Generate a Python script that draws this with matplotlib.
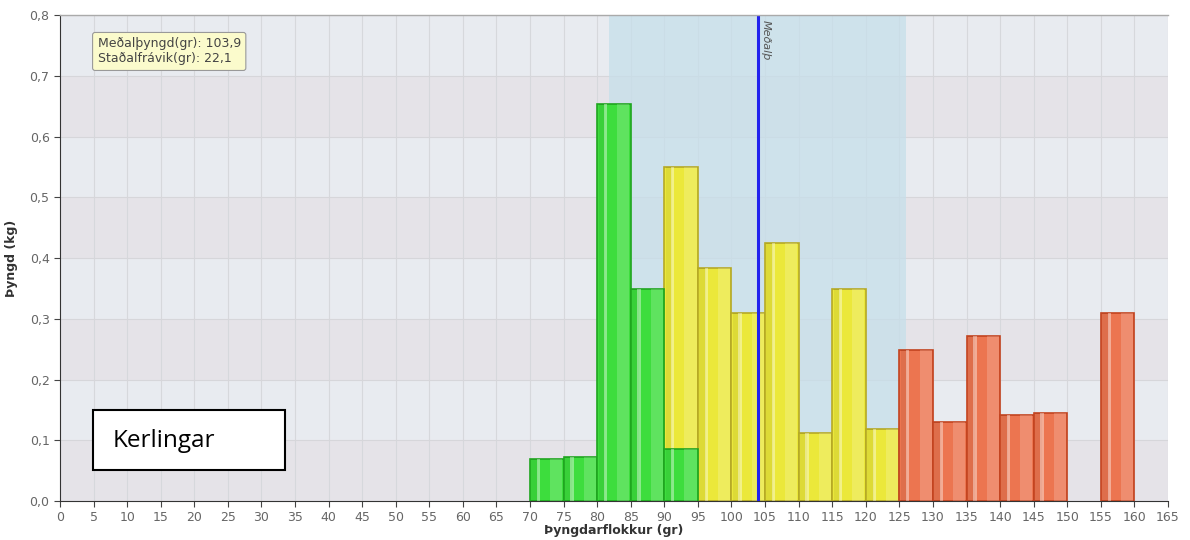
import matplotlib.pyplot as plt
from matplotlib.patches import Rectangle
import numpy as np

# weight classes (left edge, gr) and weight per class (kg)
green_x = [70, 75, 80, 85, 90]
green_h = [0.069, 0.072, 0.653, 0.349, 0.085]
yellow_x = [90, 95, 100, 105, 110, 115, 120]
yellow_h = [0.550, 0.383, 0.309, 0.425, 0.112, 0.349, 0.118]
red_x = [125, 130, 135, 140, 145, 155]
red_h = [0.249, 0.130, 0.272, 0.142, 0.145, 0.310]

mean_w = 103.9
std_w = 22.1
x_ticks = list(range(0, 166, 5))
y_ticks = [0.0, 0.1, 0.2, 0.3, 0.4, 0.5, 0.6, 0.7, 0.8]

fig = plt.figure(figsize=(11.9, 5.4), dpi=100)
ax = fig.add_axes([0.0504, 0.0722, 0.9311, 0.9])
ax.set_xlim(0, 165)
ax.set_ylim(0, 0.8)

# alternating horizontal bands
for i in range(8):
    c = '#e5e3e8' if i % 2 == 0 else '#e8ebf0'
    ax.axhspan(y_ticks[i], y_ticks[i + 1], color=c, zorder=0, lw=0)
for x in x_ticks[1:]:
    ax.axvline(x, color='#d6d8dc', lw=0.8, zorder=0.5)
for y in y_ticks[1:]:
    ax.axhline(y, color='#d6d6da', lw=0.8, zorder=0.5)

# mean +- std band
ax.axvspan(mean_w - std_w, mean_w + std_w, color='#c6dfea', alpha=0.75, zorder=1, lw=0)


def draw_bars(xs, hs, face, edge, z):
    ax.bar(xs, hs, width=5, align='edge', color=face, edgecolor=edge, lw=1.2, zorder=z)
    # glossy stripes
    ax.bar(np.array(xs) + 0.2, hs, width=1.0, align='edge', color='black', alpha=0.06, lw=0, zorder=z + 0.1)
    ax.bar(np.array(xs) + 1.0, hs, width=0.5, align='edge', color='white', alpha=0.4, lw=0, zorder=z + 0.1)
    ax.bar(np.array(xs) + 3.0, hs, width=1.8, align='edge', color='white', alpha=0.18, lw=0, zorder=z + 0.1)


draw_bars(yellow_x, yellow_h, '#ebe83a', '#b5a925', 2)
draw_bars(green_x, green_h, '#3ddd3d', '#1fa51f', 3)
draw_bars(red_x, red_h, '#ec7550', '#c2431f', 2)

ax.axvline(mean_w, color='#2222ee', lw=2.2, zorder=5)
ax.text(mean_w + 0.4, 0.792, 'Meðalþ', rotation=270, fontsize=8, style='italic',
        color='#555555', va='top', ha='left', zorder=6)

ax.set_xticks(x_ticks)
ax.set_yticks(y_ticks)
ax.set_yticklabels([f'{v:.1f}'.replace('.', ',') for v in y_ticks])
ax.tick_params(colors='#444444', labelcolor='#666666', labelsize=9, length=4)
for s in ['top', 'right']:
    ax.spines[s].set_visible(False)
ax.spines['left'].set_color('#333333')
ax.spines['bottom'].set_color('#333333')
ax.plot([0, 165], [0.8, 0.8], color='#aaaaaa', lw=1, clip_on=False, zorder=6)

ax.set_xlabel('Þyngdarflokkur (gr)', fontsize=9, fontweight='bold', color='#333333', labelpad=0)
ax.set_ylabel('Þyngd (kg)', fontsize=9, fontweight='bold', color='#333333', labelpad=8)

# info box top-left
ax.text(5.6, 0.74, 'Meðalþyngd(gr): 103,9\nStaðalfrávik(gr): 22,1', fontsize=9,
        color='#444444', ha='left', va='center', linespacing=1.2, zorder=7,
        bbox=dict(boxstyle='round,pad=0.4,rounding_size=0.2', fc='#fbfbcc', ec='#999999', lw=0.8))

# title box
fig.patches.append(Rectangle((93 / 1190, 1 - 470 / 540), 192 / 1190, 60 / 540,
                             transform=fig.transFigure, fc='white', ec='black', lw=1.5, zorder=10))
fig.text(113 / 1190, 1 - 441 / 540, 'Kerlingar', fontsize=17.5, va='center', ha='left',
         family='Open Sans', zorder=11)

plt.savefig('out.png', dpi=100)
